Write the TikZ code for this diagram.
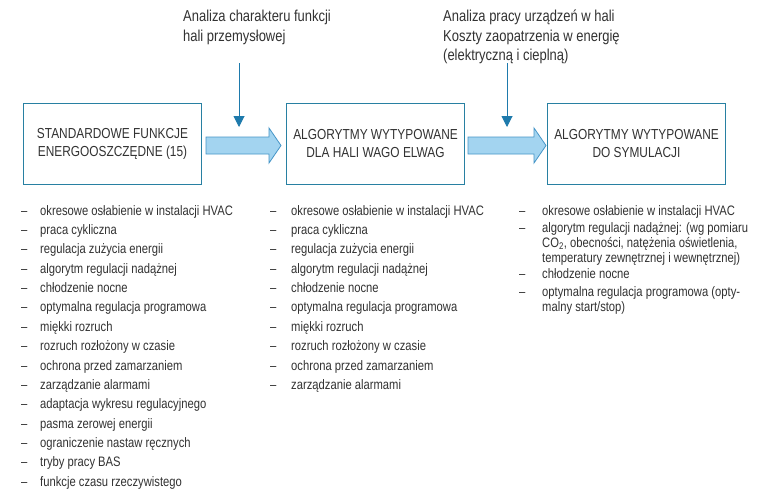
\documentclass[tikz,border=0pt]{standalone}
\usepackage{fontspec}
\setmainfont[FakeStretch=0.82]{Liberation Sans}
\usetikzlibrary{arrows.meta}
\definecolor{boxc}{RGB}{40,128,162}
\definecolor{arrfill}{RGB}{163,212,240}
\definecolor{arrline}{RGB}{70,150,200}
\definecolor{varr}{RGB}{30,122,172}
\definecolor{txt}{RGB}{50,50,50}
\newcommand{\boxfont}{\fontsize{14.5}{18}\selectfont}
\newcommand{\itemfont}{\fontsize{13.7}{15.5}\selectfont}
\newcommand{\topfont}{\fontsize{15.8}{19.5}\selectfont}
\begin{document}
\begin{tikzpicture}[x=1pt,y=-1pt,
  every node/.style={text=txt, inner sep=0pt},
  box/.style={draw=boxc, line width=0.9pt, minimum width=178pt, minimum height=81pt, align=center, font=\boxfont},
  item/.style={anchor=base west, font=\itemfont},
  dashitem/.style={anchor=base west, font=\itemfont},
  toptext/.style={anchor=base west, font=\topfont},
  fatarrow/.style={fill=arrfill, draw=arrline, line width=0.8pt, line join=miter},
  varrow/.style={draw=varr, line width=1pt, -{Triangle[width=11pt,length=11pt]}}]
\useasboundingbox (0,0) rectangle (767,501);
\fill[white] (0,0) rectangle (767,501);

% boxes
\node[box] (b1) at (112.5,143.5) {STANDARDOWE FUNKCJE\\ENERGOOSZCZĘDNE (15)};
\node[box] (b2) at (375.5,143.5) {ALGORYTMY WYTYPOWANE\\DLA HALI WAGO ELWAG};
\node[box] (b3) at (636.5,143.5) {ALGORYTMY WYTYPOWANE\\DO SYMULACJI};

% fat arrows
\draw[fatarrow] (206,137) -- (269,137) -- (269,128) -- (281,145.5) -- (269,163) -- (269,154) -- (206,154) -- cycle;
\draw[fatarrow] (468,137) -- (534,137) -- (534,128) -- (546,145.5) -- (534,163) -- (534,154) -- (468,154) -- cycle;

% top texts
\node[toptext] (q1a) at (183,21.5) {Analiza charakteru funkcji};
\node[toptext] (q1b) at (183,41) {hali przemysłowej};
\node[toptext] (q2a) at (443,21.5) {Analiza pracy urządzeń w hali};
\node[toptext] (q2b) at (443,41) {Koszty zaopatrzenia w energię};
\node[toptext] (q2c) at (443,60) {(elektryczną i cieplną)};
\coordinate (t1) at (239,63);
\coordinate (h1) at (239,127);
\coordinate (t2) at (507,63);
\coordinate (h2) at (507,127);
\draw[varrow] (t1) -- (h1);
\draw[varrow] (t2) -- (h2);

% left list
\foreach \t [count=\i] in {okresowe osłabienie w instalacji HVAC, praca cykliczna, regulacja zużycia energii, algorytm regulacji nadążnej, chłodzenie nocne, optymalna regulacja programowa, miękki rozruch, rozruch rozłożony w czasie, ochrona przed zamarzaniem, zarządzanie alarmami, adaptacja wykresu regulacyjnego, pasma zerowej energii, ograniczenie nastaw ręcznych, tryby pracy BAS, funkcje czasu rzeczywistego}{
  \node[dashitem] (ld\i) at (21,215+19.38*\i-19.38) {–};
  \node[item] (l\i) at (40,215+19.38*\i-19.38) {\t};
}

% middle list
\foreach \t [count=\i] in {okresowe osłabienie w instalacji HVAC, praca cykliczna, regulacja zużycia energii, algorytm regulacji nadążnej, chłodzenie nocne, optymalna regulacja programowa, miękki rozruch, rozruch rozłożony w czasie, ochrona przed zamarzaniem, zarządzanie alarmami}{
  \node[dashitem] (md\i) at (270,215+19.38*\i-19.38) {–};
  \node[item] (m\i) at (291,215+19.38*\i-19.38) {\t};
}

% right list
\node[dashitem] (rd1) at (519,215) {–};
\node[item] (r1) at (542,215) {okresowe osłabienie w instalacji HVAC};
\node[dashitem] (rd2) at (519,232) {–};
\node[item] (r2a) at (542,232) {algorytm regulacji nadążnej: (wg pomiaru};
\node[item] (r2b) at (542,247) {CO\textsubscript{2}, obecności, natężenia oświetlenia,};
\node[item] (r2c) at (542,262) {temperatury zewnętrznej i wewnętrznej)};
\node[dashitem] (rd3) at (519,278) {–};
\node[item] (r3) at (542,278) {chłodzenie nocne};
\node[dashitem] (rd4) at (519,296) {–};
\node[item] (r4a) at (542,296) {optymalna regulacja programowa (opty-};
\node[item] (r4b) at (542,311) {malny start/stop)};
\end{tikzpicture}
\end{document}
